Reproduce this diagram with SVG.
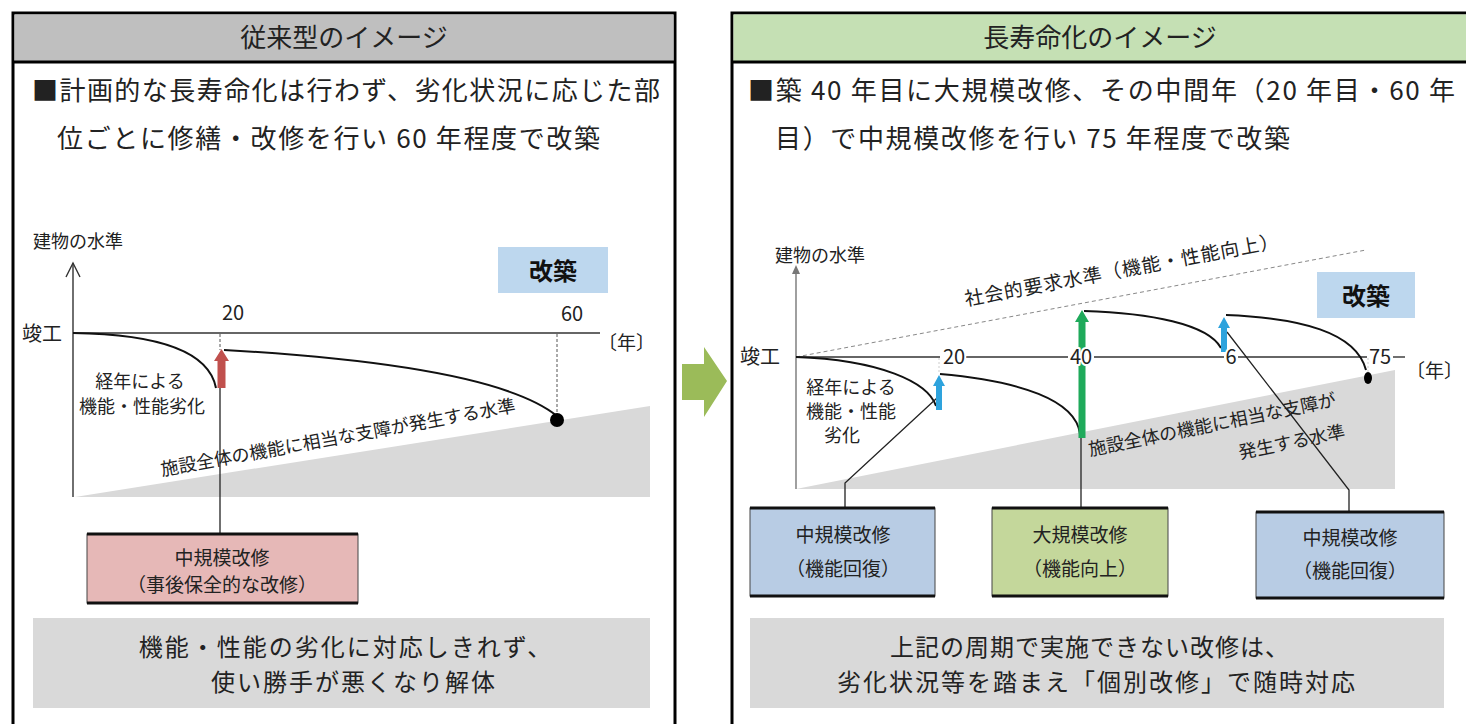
<svg xmlns="http://www.w3.org/2000/svg" width="1466" height="724" viewBox="0 0 1466 724">
<style>
.t{font-family:"Noto Sans CJK JP","Noto Sans",sans-serif;fill:#222}
.c{text-anchor:middle}
.halo{stroke:#fff;stroke-width:4;paint-order:stroke;stroke-linejoin:round}
.panel{fill:#fff;stroke:#000;stroke-width:3}
.ax{stroke:#333;stroke-width:1.4;fill:none}
.cv{stroke:#111;stroke-width:2;fill:none}
.ln{stroke:#222;stroke-width:1.3;fill:none}
.dash{stroke:#555;stroke-width:1;stroke-dasharray:3 2;fill:none}
.bxl{stroke:#111;stroke-width:3}
.gray{fill:#d9d9d9}
.kai{fill:#bdd7ee}
</style>
<rect width="1466" height="724" fill="#fff"/>

<g id="panel-left">
<rect class="panel" x="13" y="13" width="662" height="720"/>
<rect x="14.5" y="14.5" width="659" height="47" fill="#bfbfbf"/>
<line x1="13" y1="62" x2="675" y2="62" stroke="#000" stroke-width="3"/>
<text class="t c" x="344" y="47" font-size="26">従来型のイメージ</text>
<text class="t" x="32" y="100" font-size="26" textLength="628" lengthAdjust="spacing">■計画的な長寿命化は行わず、劣化状況に応じた部</text>
<text class="t" x="57" y="148" font-size="26" textLength="543" lengthAdjust="spacing">位ごとに修繕・改修を行い 60 年程度で改築</text>
</g>

<g id="panel-right">
<rect class="panel" x="732" y="13" width="740" height="720"/>
<rect x="733.5" y="14.5" width="735" height="47" fill="#c5e0b4"/>
<line x1="732" y1="62" x2="1466" y2="62" stroke="#000" stroke-width="3"/>
<text class="t c" x="1100" y="47" font-size="26">長寿命化のイメージ</text>
<text class="t" x="748" y="100" font-size="26" textLength="707" lengthAdjust="spacing">■築 40 年目に大規模改修、その中間年（20 年目・60 年</text>
<text class="t" x="775" y="148" font-size="26" textLength="515" lengthAdjust="spacing">目）で中規模改修を行い 75 年程度で改築</text>
</g>

<g id="big-arrow">
<polygon points="682,364 704,364 704,347 727,381 704,417 704,400 682,400" fill="#9bbb59"/>
</g>

<g id="chart-left">
<polygon class="gray" points="75,497 650,406 650,497"/>
<line class="ax" x1="73" y1="263" x2="73" y2="497"/>
<polyline class="ax" points="66,277 73,263 80,277"/>
<line class="ax" x1="73" y1="333" x2="600" y2="333"/>
<text class="t" x="33" y="248" font-size="18">建物の水準</text>
<text class="t" x="22" y="341" font-size="20">竣工</text>
<text class="t" x="598" y="350" font-size="19">〔年〕</text>
<text class="t c" x="233" y="320" font-size="20">20</text>
<text class="t c" x="572" y="321" font-size="20">60</text>
<line class="dash" x1="220" y1="334" x2="220" y2="350"/>
<line class="dash" x1="557" y1="334" x2="557" y2="416"/>
<path class="cv" d="M73,333 C145,334 208,346 216,388"/>
<path class="cv" d="M224,350 C400,360 515,382 557,416"/>
<circle cx="557" cy="420" r="7" fill="#000"/>
<text class="t c" x="140" y="388" font-size="18">経年による</text>
<text class="t c" x="142" y="413" font-size="18">機能・性能劣化</text>
<text class="t" font-size="18" transform="translate(162,476) rotate(-10.3)">施設全体の機能に相当な支障が発生する水準</text>
<g id="kaichiku-left">
<rect class="kai" x="498" y="247" width="110" height="46"/>
<text class="t c" x="553" y="280" font-size="24" font-weight="bold" style="fill:#111">改築</text>
</g>
</g>

<g id="chart-right">
<polygon class="gray" points="796,489 1395,370 1395,489"/>
<line x1="796" y1="272" x2="796" y2="489" stroke="#777" stroke-width="1.4"/>
<polygon points="792,274 796,265 800,274" fill="#777"/>
<line x1="796" y1="357" x2="1366" y2="250" stroke="#888" stroke-width="1" stroke-dasharray="4 3"/>
<g class="ax">
<line x1="796" y1="357" x2="940" y2="357"/>
<line x1="966" y1="357" x2="1068" y2="357"/>
<line x1="1094" y1="357" x2="1224" y2="357"/>
<line x1="1238" y1="357" x2="1367" y2="357"/>
<line x1="1393" y1="357" x2="1405" y2="357"/>
</g>
<text class="t" x="775" y="262" font-size="18">建物の水準</text>
<text class="t" x="740" y="364" font-size="20">竣工</text>
<text class="t" x="1406" y="378" font-size="19">〔年〕</text>
<text class="t" font-size="19" letter-spacing="1" transform="translate(966,306) rotate(-10.6)">社会的要求水準（機能・性能向上）</text>
<line x1="939" y1="358" x2="939" y2="374" stroke="#ccc" stroke-width="1" stroke-dasharray="2 2"/>
<line x1="1368" y1="358" x2="1368" y2="372" stroke="#ccc" stroke-width="1" stroke-dasharray="2 2"/>
<path class="cv" d="M796,357 C880,360 928,382 936,406"/>
<path class="cv" d="M940,374 C1020,381 1076,400 1080,434"/>
<path class="cv" d="M1084,311 C1150,313 1208,324 1221,348"/>
<path class="cv" d="M1226,315 C1300,318 1356,332 1366,370"/>
<ellipse cx="1368" cy="378" rx="4" ry="6" fill="#000"/>
<text class="t c" x="851" y="394" font-size="18">経年による</text>
<text class="t c" x="851" y="418" font-size="18">機能・性能</text>
<text class="t c" x="842" y="442" font-size="18">劣化</text>
<text class="t" font-size="18" transform="translate(1090,456) rotate(-11.5)">施設全体の機能に相当な支障が</text>
<text class="t" font-size="18" transform="translate(1240,459) rotate(-11.5)">発生する水準</text>
<g id="kaichiku-right">
<rect class="kai" x="1317" y="272" width="98" height="46"/>
<text class="t c" x="1366" y="305" font-size="24" font-weight="bold" style="fill:#111">改築</text>
</g>
</g>

<g id="connectors">
<line class="ln" x1="220" y1="378" x2="220" y2="534"/>
<polyline class="ln" points="937,398 845,483 845,508"/>
<line class="ln" x1="1081" y1="430" x2="1081" y2="508"/>
<polyline class="ln" points="1227,332 1349,490 1349,512"/>
</g>

<g id="arrows">
<polygon points="217.5,388 225.5,388 225.5,361 229,361 221.5,349 214,361 217.5,361" fill="#c0504d"/>
<polygon points="936,410 942,410 942,386 945,386 939,375 933,386 936,386" fill="#2ea3dd"/>
<polygon points="1078.5,438 1085.5,438 1085.5,322 1089,322 1082,310 1075,322 1078.5,322" fill="#1faa5b"/>
<polygon points="1221,352 1227,352 1227,328 1230,328 1224,317 1218,328 1221,328" fill="#2ea3dd"/>
</g>

<g id="axis-labels-right">
<text class="t c halo" x="954" y="364" font-size="20">20</text>
<text class="t c halo" x="1081" y="364" font-size="20">40</text>
<text class="t c halo" x="1231" y="364" font-size="20">6</text>
<text class="t c halo" x="1380" y="364" font-size="20">75</text>
</g>

<g id="box-left">
<rect x="87" y="534" width="271" height="69" fill="#e6b8b7" stroke="#444" stroke-width="1"/>
<line class="bxl" x1="87" y1="534" x2="358" y2="534"/>
<line class="bxl" x1="87" y1="603" x2="358" y2="603"/>
<text class="t c" x="222" y="565" font-size="19">中規模改修</text>
<text class="t c" x="222" y="592" font-size="19">（事後保全的な改修）</text>
</g>

<g id="box-r1">
<rect x="750" y="508" width="185" height="88" fill="#b8cce4" stroke="#444" stroke-width="1"/>
<line class="bxl" x1="750" y1="508" x2="935" y2="508"/>
<line class="bxl" x1="750" y1="596" x2="935" y2="596"/>
<text class="t c" x="843" y="542" font-size="19">中規模改修</text>
<text class="t c" x="843" y="576" font-size="19">（機能回復）</text>
</g>

<g id="box-r2">
<rect x="992" y="508" width="176" height="88" fill="#c4d79b" stroke="#444" stroke-width="1"/>
<line class="bxl" x1="992" y1="508" x2="1168" y2="508"/>
<line class="bxl" x1="992" y1="596" x2="1168" y2="596"/>
<text class="t c" x="1080" y="542" font-size="19">大規模改修</text>
<text class="t c" x="1080" y="576" font-size="19">（機能向上）</text>
</g>

<g id="box-r3">
<rect x="1256" y="512" width="188" height="86" fill="#b8cce4" stroke="#444" stroke-width="1"/>
<line class="bxl" x1="1256" y1="512" x2="1444" y2="512"/>
<line class="bxl" x1="1256" y1="598" x2="1444" y2="598"/>
<text class="t c" x="1350" y="545" font-size="19">中規模改修</text>
<text class="t c" x="1350" y="578" font-size="19">（機能回復）</text>
</g>

<g id="note-left">
<rect class="gray" x="33" y="618" width="617" height="90"/>
<text class="t c" x="346" y="656" font-size="24" letter-spacing="2">機能・性能の劣化に対応しきれず、</text>
<text class="t c" x="354" y="691" font-size="24" letter-spacing="2">使い勝手が悪くなり解体</text>
</g>

<g id="note-right">
<rect class="gray" x="750" y="618" width="694" height="90"/>
<text class="t c" x="1090" y="656" font-size="24" letter-spacing="1">上記の周期で実施できない改修は、</text>
<text class="t c" x="1097" y="691" font-size="24" letter-spacing="2">劣化状況等を踏まえ「個別改修」で随時対応</text>
</g>
</svg>
